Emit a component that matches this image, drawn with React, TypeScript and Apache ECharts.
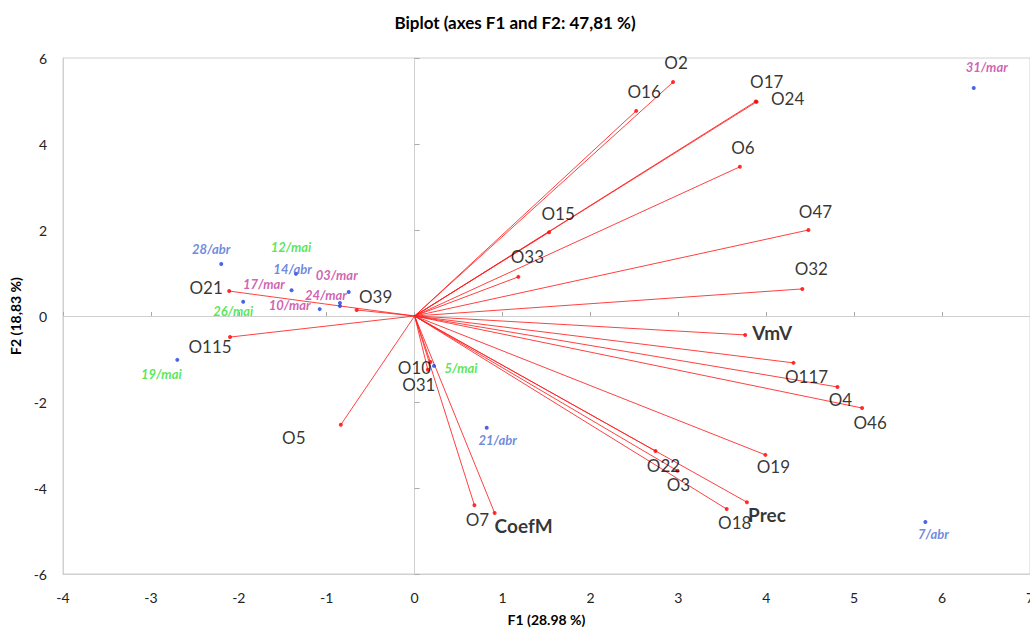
import React, { useEffect, useRef } from "react";
import * as echarts from "echarts";

// Variables (vectors from origin): [name, F1, F2]
const variableNames = ["O2", "O16", "O17", "O24", "O6", "O47", "O32", "VmV", "O117", "O4", "O46", "O19", "O22", "O3", "Prec", "O18", "O7", "CoefM", "O10", "O31", "O15", "O33", "O39", "O21", "O115", "O5"];
const variableF1 = [2.94, 2.52, 3.88, 3.89, 3.70, 4.48, 4.41, 3.76, 4.31, 4.81, 5.09, 3.99, 2.74, 2.99, 3.78, 3.55, 0.68, 0.91, 0.18, 0.15, 1.53, 1.18, -0.66, -2.11, -2.10, -0.84];
const variableF2 = [5.44, 4.77, 4.99, 4.98, 3.47, 2.00, 0.63, -0.44, -1.09, -1.65, -2.14, -3.23, -3.14, -3.60, -4.33, -4.49, -4.40, -4.58, -1.07, -1.25, 1.95, 0.91, 0.14, 0.58, -0.49, -2.53];
const boldVariables = ["VmV", "Prec", "CoefM"];

// Observations (dates)
const obsNames = ["28/abr", "12/mai", "14/abr", "17/mar", "03/mar", "24/mar", "10/mar", "26/mai", "19/mai", "5/mai", "21/abr", "31/mar", "7/abr"];
const obsF1 = [-2.20, -1.35, -1.40, -0.85, -0.75, -0.85, -1.08, -1.95, -2.70, 0.22, 0.82, 6.36, 5.81];
const obsF2 = [1.21, 0.98, 0.60, 0.23, 0.56, 0.30, 0.16, 0.33, -1.02, -1.16, -2.60, 5.30, -4.79];
const obsMonth = ["abr", "mai", "abr", "mar", "mar", "mar", "mar", "mai", "mai", "mai", "abr", "mar", "abr"];

const xTicks = [-4, -3, -2, -1, 0, 1, 2, 3, 4, 5, 6, 7];
const yTicks = [-6, -4, -2, 0, 2, 4, 6];

// Layout: label offsets (px) relative to markers
const varLabelOffset: Record<string, [number, number]> = {
  O2: [3, -20], O16: [8, -19], O17: [11, -20], O24: [31, -3], O6: [3, -19],
  O47: [7, -19], O32: [9, -20], VmV: [27, -2], O117: [13, 14], O4: [3, 13],
  O46: [8, 14], O19: [8, 12], O22: [8, 14], O3: [1, 14], Prec: [20, 12],
  O18: [8, 13], O7: [3, 14], CoefM: [29, 13], O10: [-16, 5], O31: [-9, 15],
  O15: [9, -19], O33: [9, -20], O39: [19, -13], O21: [-23, -4], O115: [-20, 9], O5: [-47, 13],
};
const obsLabelOffset: Record<string, [number, number]> = {
  "28/abr": [-10, -15], "12/mai": [-5, -27], "14/abr": [1, -21], "17/mar": [-76, -22],
  "03/mar": [-12, -17], "24/mar": [-14, -8], "10/mar": [-30, -4], "26/mai": [-10, 9],
  "19/mai": [-16, 14], "5/mai": [27, 2], "21/abr": [11, 12], "31/mar": [13, -21], "7/abr": [8, 12],
};
const monthColor: Record<string, string> = { mar: "#c43a9e", abr: "#4a6bd6", mai: "#2fe02f" };

const FONT = "Lato, 'Open Sans', sans-serif";

export default function App() {
  const ref = useRef<HTMLDivElement>(null);
  useEffect(() => {
    document.body.style.margin = "0";
    const chart = echarts.init(ref.current!, null, { renderer: "svg" });
    const axisGray = "#d0d0d0";
    const vecLines = variableNames.map((n, i) => ({ coords: [[0, 0], [variableF1[i], variableF2[i]]] }));
    const varPoints = variableNames.map((n, i) => {
      const bold = boldVariables.includes(n);
      return {
        name: n,
        value: [variableF1[i], variableF2[i]],
        label: {
          show: true,
          formatter: n,
          position: "inside",
          offset: varLabelOffset[n],
          color: "#000",
          fontFamily: FONT,
          fontSize: bold ? 19 : 17,
          fontWeight: bold ? "bold" : "normal",
        },
      };
    });
    const obsPoints = obsNames.map((n, i) => ({
      name: n,
      value: [obsF1[i], obsF2[i]],
      label: {
        show: true,
        formatter: n,
        position: "inside",
        offset: obsLabelOffset[n],
        color: monthColor[obsMonth[i]],
        fontFamily: FONT,
        fontSize: 13,
        fontWeight: "bold",
        fontStyle: "italic",
      },
    }));
    chart.setOption({
      animation: false,
      title: {
        text: "Biplot (axes F1 and F2: 47,81 %)",
        left: "center",
        top: 9,
        textStyle: { fontFamily: FONT, fontSize: 17, fontWeight: "bold", color: "#000" },
      },
      grid: {
        left: 63, right: 0, top: 58, bottom: 54, show: true, borderColor: axisGray, borderWidth: 1,
        outerBoundsMode: "none", containLabel: false,
      },
      xAxis: [
        {
          type: "value", min: xTicks[0], max: xTicks[xTicks.length - 1], interval: 1,
          axisLine: { onZero: false, lineStyle: { color: axisGray } },
          axisTick: { show: false },
          splitLine: { show: false },
          axisLabel: { color: "#222", fontFamily: FONT, fontSize: 14, margin: 16 },
          name: "F1 (28.98 %)", nameLocation: "middle", nameGap: 38,
          nameTextStyle: { fontFamily: FONT, fontSize: 14, fontWeight: "bold", color: "#000" },
        },
        {
          type: "value", min: xTicks[0], max: xTicks[xTicks.length - 1], interval: 1, position: "bottom",
          axisLine: { onZero: true, onZeroAxisIndex: 0, lineStyle: { color: axisGray } },
          axisTick: { show: true, inside: true, length: 4, lineStyle: { color: "#aaa" } },
          splitLine: { show: false }, axisLabel: { show: false },
        },
      ],
      yAxis: [
        {
          type: "value", min: yTicks[0], max: yTicks[yTicks.length - 1], interval: 2,
          axisLine: { show: true, onZero: false, lineStyle: { color: axisGray } },
          axisTick: { show: false },
          splitLine: { show: false },
          axisLabel: { color: "#222", fontFamily: FONT, fontSize: 14, margin: 16 },
          name: "F2 (18,83 %)", nameLocation: "middle", nameGap: 40, nameRotate: 90,
          nameTextStyle: { fontFamily: FONT, fontSize: 14, fontWeight: "bold", color: "#000" },
        },
        {
          type: "value", min: yTicks[0], max: yTicks[yTicks.length - 1], interval: 2, position: "left",
          axisLine: { show: true, onZero: true, onZeroAxisIndex: 0, lineStyle: { color: axisGray } },
          axisTick: { show: true, inside: true, length: 5, lineStyle: { color: "#aaa" } },
          splitLine: { show: false }, axisLabel: { show: false },
        },
      ],
      series: [
        {
          type: "lines", coordinateSystem: "cartesian2d", xAxisIndex: 0, yAxisIndex: 0,
          data: vecLines, silent: true,
          lineStyle: { color: "#ff2020", width: 1, opacity: 0.85 },
        },
        {
          type: "scatter", xAxisIndex: 0, yAxisIndex: 0, data: varPoints,
          symbolSize: 4, itemStyle: { color: "#ff0000" }, silent: true,
        },
        {
          type: "scatter", xAxisIndex: 0, yAxisIndex: 0, data: obsPoints,
          symbolSize: 4, itemStyle: { color: "#1a3fe0" }, silent: true,
        },
      ],
    });
    return () => chart.dispose();
  }, []);
  return <div ref={ref} style={{ width: 1030, height: 628 }} />;
}
